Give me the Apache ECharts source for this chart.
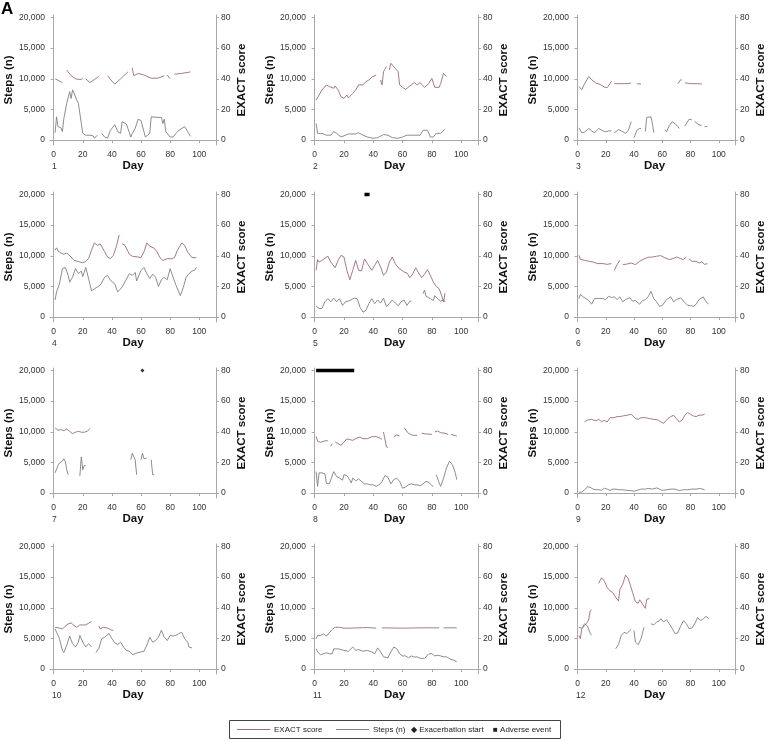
<!DOCTYPE html>
<html>
<head>
<meta charset="utf-8">
<script src="https://cdn.jsdelivr.net/npm/echarts@6/dist/echarts.min.js"></script>
<style>
  html, body { margin: 0; padding: 0; background: #fff; }
  #chart { width: 768px; height: 741px; }
</style>
</head>
<body>
<div id="chart"></div>
<script>
// tick labels
const dayTicks = [0, 20, 40, 60, 80, 100]
const stepTicks = [0, 5000, 10000, 15000, 20000]
const exactTicks = [0, 20, 40, 60, 80]

// [day, value]; null = gap in the record
const exact1 = [[1,40],[3,39],[6,37.5],null,[9,45.7],[12,42],[15,40],[18,39.5],[20,40],null,[22,40],[25,37.5],[28,39.5],[31,41.5],null,[37,42],[40,38.5],[42,36.5],[46,40],[51,44.5],null,[54,47],[55,42],[58,43.5],[62,42.5],[67,40.3],[72,40.5],[76,42],null,[78,42.5],[80,40],null,[83,43],[88,43.5],[94,44.5]]
const steps1 = [[1,1200],[2,3800],[3,2200],[4,1900],[5,2000],[6,1400],[7,3500],[9,6000],[11,7900],[12,6800],[13,8200],[14,8400],[16,6500],[17,6000],[19,2700],[20,1100],[22,800],[25,800],[27,700],[28,300],[30,800],null,[33,1100],[35,500],[37,300],[39,1600],[42,2500],[44,1400],[46,1100],[47,3000],[50,2600],[51,1900],[53,500],[54,1100],[56,1900],[58,3400],[60,3200],[62,1400],[63,500],[66,1100],[67,3800],[71,3700],[74,3700],[75,2700],[76,3400],[77,1400],[80,500],[82,500],[84,1100],[86,1600],[90,2200],[92,1400],[94,600]]

const exact2 = [[1,26.1],[3,29.4],[5,32.7],[8,36],[10,34.9],[13,33.8],[14,35.3],[16,32.7],[18,28.3],[20,27.2],[22,29.4],[23,27.5],[26,30.5],[28,32.7],[30,36],[33,36],[35,38.1],[37,39.2],[39,41],[42,42.5],null,[45,39.2],[46,36],[47,44.7],[49,47.9],null,[51,45.8],[52,50.1],[55,46.8],[57,44.7],[58,36],[60,34.4],[62,33.1],[63,34.4],[66,36],[68,37.5],[70,36],[72,37.5],[75,34.4],[78,37],[80,40.3],[82,34.4],[85,34.4],[86,37],[88,43.6],[90,41.4]]
const steps2 = [[1,2700],[2,1100],[3,1400],[5,1100],[8,800],[11,800],[13,1400],[15,1100],[18,500],[20,700],[23,1000],[28,1000],[30,1200],[33,800],[36,500],[40,300],[43,400],[47,900],[50,800],[53,400],[57,300],[60,500],[63,800],[68,800],[72,800],[74,1600],[77,1600],[79,500],[81,500],[83,1100],[86,1100],[89,1800]]

const exact3 = [[1,35],[3,32.9],[5,36.8],[8,41.5],[10,39.4],[13,37.2],[16,36.3],[19,34.6],[21,34.2],[23,36.8],[24,38.5],null,[26,36.8],[30,36.8],[35,36.8],[38,37.2],null,[42,36.8],[45,36.5],null,[71,36.8],[73,39.4],[74,39],null,[76,37.4],[80,36.8],[85,36.8],[88,36.6]]
const steps3 = [[1,2000],[3,1200],[5,1300],[8,1900],[10,1500],[12,1200],[15,1900],[18,1500],[20,1350],[22,1500],[24,1500],null,[26,1200],[29,1700],[31,1500],[34,1100],[36,1600],[38,3000],null,[40,400],[42,1600],[44,1900],[45,1900],null,[48,1400],[49,3700],[52,3800],[53,2700],[54,1200],null,[62,1700],[63,1350],[65,2400],[67,3000],[69,2700],[71,2200],[72,1900],null,[76,2300],[79,3400],[81,3300],null,[83,3000],[86,2500],[88,2400],null,[90,2200],[92,2200]]

const exact4 = [[1,43.6],[2,45.2],[3,43.2],[5,41.8],[7,41],[9,41.8],[12,39.2],[14,37],[17,36.2],[20,35.5],[22,36.2],[24,38.3],[26,43.6],[28,48.4],[30,46.8],[32,47.7],[35,42.7],[37,39.2],[39,38.1],[41,40.3],[43,45.8],[45,53.6],null,[47,47.9],[49,46.8],[52,41],[54,39.7],[58,39.2],[60,38.8],[62,42.5],[64,48.4],[66,46.2],[69,45],[71,42.5],[73,38.8],[75,37],[78,38.1],[81,38.1],[83,38.8],[85,43.6],[88,48.4],[90,46.8],[92,42.5],[95,38.8],[98,38.8]]
const steps4 = [[1,2800],[2,4100],[4,5400],[6,7900],[8,8100],[10,6800],[11,5700],[13,6500],[15,7900],[17,7100],[19,7500],[20,6600],[22,8100],[24,6300],[26,4300],[28,4600],[30,4900],[32,5200],[35,6500],[37,6800],[39,6000],[42,5400],[44,4100],[45,3800],[47,4900],[50,6200],[52,7100],[54,6800],[56,7300],[57,5900],[60,7600],[62,8100],[64,7100],[66,6300],[68,7000],[70,6500],[72,5000],[74,6100],[76,6500],[78,6100],[80,7900],[82,6500],[84,5200],[86,4100],[87,3500],[89,4800],[91,6500],[93,7100],[95,7500],[97,7700],[98,8100]]

const exact5 = [[1,30.5],[2,37.5],[3,35.9],[5,37],[6,38.1],[9,39.7],[11,35.9],[14,32.2],[16,37],[18,40.3],[20,39.2],[22,30.5],[24,24.4],[26,30.5],[28,37],[30,30.5],[32,30.1],[34,37.9],[36,34.9],[39,30.5],[41,33.8],[43,37],[45,32.7],[47,27.2],[49,29.4],[51,35.9],[53,39.2],[55,34.9],[57,32.2],[59,30.9],[61,29.4],[63,28.8],[65,25.7],[67,28.3],[69,32.2],[71,28.8],[73,25.7],[75,27.9],[77,30.9],[79,27.2],[81,22.9],[83,20],[85,18.5],[87,13.1],[88,9.8],[89,15.7]]
const steps5 = [[1,1800],[3,1400],[5,1400],[7,2500],[9,3000],[11,2500],[13,3100],[15,2500],[17,3000],[19,1900],[21,2500],[24,2700],[27,3100],[29,3000],[31,1600],[33,800],[35,1100],[37,2200],[39,3000],[41,2200],[43,2800],[45,2300],[47,3100],[49,1700],[51,2200],[53,2800],[55,2300],[57,1850],[59,2500],[61,2800],[63,1900],[65,2600],[66,2600],null,[74,3800],[75,4400],[76,3400],[79,3000],[81,2700],[82,3500],[84,3000],[86,2600],[88,2800],[89,2500]]

const exact6 = [[1,40.3],[2,37.7],[5,37],[8,36.4],[11,35.9],[14,34.9],[18,34.9],[21,34.4],[24,34.9],null,[26,30.5],[28,34.2],[30,37],null,[32,34.2],[35,34.6],[38,35.3],[41,34.2],[44,36.4],[47,37.9],[50,39],[53,39.2],[56,39.7],[59,40.1],[62,38.6],[65,37.5],[68,38.3],[70,39.2],[73,38.1],[75,37.5],[77,39.2],null,[79,37.9],[81,36.4],[84,36.4],[86,35.3],[88,35.9],[90,34.4],[92,34.9]]
const steps6 = [[1,3000],[2,3700],[4,3300],[6,3000],[8,2700],[10,2100],[12,3000],[15,3050],[18,3000],[20,2850],[22,3400],[24,3200],[26,3300],[28,2850],[30,3300],[32,2500],[34,2850],[37,3150],[39,2600],[41,2700],[44,2100],[46,2700],[48,2850],[50,3300],[52,4200],[54,3000],[56,2500],[58,1750],[60,1900],[63,2850],[66,3300],[68,2500],[70,2850],[73,3150],[75,2600],[78,1900],[80,1900],[82,1750],[84,2100],[86,2850],[89,3300],[91,2500],[93,2100]]

const exact7 = [[1,42.5],[3,41],[5,41.4],[7,40.7],[9,41.8],[11,40.3],[13,38.8],[15,39.7],[17,40.3],[19,39.7],[21,39.7],[23,40.3],[25,42.1]]
const steps7 = [[1,3300],[2,3000],[3,4500],[4,4900],[5,4600],[6,5200],[7,5600],[8,5200],[9,3800],[10,3000],null,[18,2800],[19,5900],[20,3800],[21,4500],[22,4500],null,[53,5450],[54,6500],[56,5450],[57,3000],null,[60,5450],[61,6500],[62,5600],[64,5700],null,[67,5450],[68,3000],[69,3000]]

const exact8 = [[1,37],[2,33.8],[4,33.1],[6,33.8],[8,34.2],[9,34.2],null,[11,30.5],[12,32.2],null,[14,33.3],[16,32.2],[18,31.1],[20,33.3],[22,35.3],[24,34.9],[26,34.4],[28,35.5],[31,36.6],[33,35.5],[36,35.5],[39,36.8],[42,36.8],[44,36.2],[46,35.1],null,[47,39.9],[49,30.1],[50,29.8],null,[54,36.8],[56,37.9],[58,37.3],null,[61,42.7],[62,41.6],[64,39],[67,37.7],[70,37.7],null,[73,39],[76,38.6],[80,38.3],null,[82,39.9],[84,40.5],[86,39.4],[89,39],[91,38.3],null,[93,38.3],[97,37.2]]
const steps8 = [[1,3500],[2,1100],[3,3300],[5,3300],[7,3150],[8,1600],[10,1500],[11,1500],[13,3500],[15,2700],[17,2450],[19,2100],[20,3000],[22,2850],[24,2100],[25,1650],[26,2450],[28,2000],[30,2300],[32,1900],[34,1500],[36,1500],[38,1350],[40,1350],[42,1100],[44,1350],[46,1900],[48,2850],[50,2600],[52,1500],[54,2200],[56,2450],[58,1900],[60,800],[62,1000],[64,1350],[66,1500],[68,1350],[70,1350],[72,1200],[74,1500],[76,1900],[78,1750],[80,1200],[81,1100],null,[83,3000],[85,1650],[86,1100],[88,2450],[90,4100],[92,5200],[94,4650],[96,3300],[97,2200]]

const exact9 = [[5,46.4],[7,47.7],[10,48.1],[13,47.1],[15,48.1],[17,46.6],[19,47.5],[21,46.4],[23,49.2],[26,49.2],[28,49.9],[30,49.9],[32,50.3],[35,50.8],[38,51.4],[41,48.6],[43,48.1],[45,49.2],[48,49.2],[51,48.6],[54,48.1],[57,47.7],[59,46.4],[61,45.5],[63,47.7],[66,49.9],[68,50.8],[70,48.6],[72,46.4],[74,47.5],[76,50.8],[78,52.5],[80,51.4],[82,50.3],[84,49.9],[86,50.8],[88,50.8],[90,51.4]]
const steps9 = [[1,150],[3,150],[5,550],[7,1000],[9,950],[11,650],[13,550],[15,550],[17,450],[19,800],[21,650],[23,450],[25,650],[27,650],[29,550],[32,550],[35,450],[38,400],[40,300],[42,450],[45,650],[48,650],[50,750],[53,650],[56,850],[58,650],[60,450],[63,550],[66,650],[69,650],[72,400],[75,550],[78,550],[81,650],[84,650],[87,750],[90,550]]

const exact10 = [[1,27.3],[2,26.7],[4,26.7],[6,26.2],[8,27.9],[10,29.5],[12,30.1],[14,28.4],[16,27.3],[18,28.8],[20,28.8],[22,28.8],[23,27.9],[25,30.5],[26,31],null,[31,28.2],[32,26.2],[34,27.3],[37,26.7],[39,25.8],[41,25.2]]
const steps10 = [[1,6600],[2,6000],[4,4950],[6,3050],[7,2700],[9,3900],[11,5400],[13,4150],[15,3600],[17,4400],[18,5500],[20,4400],[22,3600],[24,4150],[26,3600],null,[29,2700],[31,3350],[33,4950],[35,5200],[38,5800],[40,4950],[42,4300],[44,4000],[46,4400],[48,3600],[50,3050],[52,2900],[54,2350],[56,2500],[58,2700],[60,2800],[62,2900],[64,3900],[66,5200],[68,4400],[70,4650],[72,5200],[74,6350],[76,5200],[78,4650],[80,5500],[82,5400],[84,5500],[86,5800],[88,6000],[90,4950],[92,4400],[93,3600],[95,3450]]

const exact11 = [[1,19.8],[2,21.9],[4,21.9],[6,23],[8,21.5],[10,23.7],[12,25.8],[14,27.3],[17,27.3],[20,26.7],[24,26.7],[30,26.9],[36,27.1],[42,26.7],null,[46,26.9],[60,26.7],[72,26.9],[85,26.9],null,[88,26.9],[97,26.9]]
const steps11 = [[1,3300],[2,2800],[4,2350],[6,2500],[8,2650],[10,2500],[12,2500],[13,3300],[16,3300],[20,3050],[23,2900],[26,3600],[28,3050],[30,3200],[33,2900],[36,3050],[39,2800],[41,2500],[43,3450],[45,2800],[47,2000],[50,1850],[52,2800],[54,3600],[56,3350],[58,2500],[60,2150],[62,2150],[64,1850],[66,2150],[68,1950],[70,2000],[72,1750],[75,1750],[78,2500],[80,2500],[82,2150],[84,2250],[86,2150],[88,2000],[90,2000],[93,1600],[95,1450],[97,1200]]

const exact12 = [[1,22],[2,19.8],[3,26.2],[5,28.4],[7,30.5],[8,32.7],[9,38],[10,38.7],null,[15,55.9],[17,59.6],[19,57.4],[21,53.1],[23,51],[25,49.9],[27,46.7],[29,44.5],[30,52],[32,55.3],[34,61.3],[36,58.9],[37,58.9],[39,49.9],[41,43.9],[43,43],[44,45.2],[46,42.4],[48,39.6],[49,45.6],[51,46]]
const steps12 = [[1,6800],[3,6650],[5,7400],[7,7050],[9,5800],[10,5500],null,[27,3300],[29,4000],[31,5500],[33,6000],[35,5800],[36,5500],[37,6300],[38,6500],null,[40,6300],[41,4400],[42,4650],[43,4000],[45,4950],[47,6800],null,[52,7400],[54,7200],[56,7700],[58,7850],[59,8200],[61,7700],[63,8050],[65,7400],[67,6650],[69,5800],[71,5900],[73,7000],[75,7900],[77,7400],[79,6600],[81,6700],[83,7400],[85,8400],[87,7900],[89,8200],[91,8600],[93,8200]]

// events: adverse event spans [start, end] by panel, exacerbation start days by panel
const adverseEvents = { 5: [34, 37.5], 8: [1, 27] }
const exacerbationStarts = { 7: [61] }

const exactList = [exact1, exact2, exact3, exact4, exact5, exact6, exact7, exact8, exact9, exact10, exact11, exact12]
const stepsList = [steps1, steps2, steps3, steps4, steps5, steps6, steps7, steps8, steps9, steps10, steps11, steps12]

const EXACT_COLOR = '#9c6a80'
const STEPS_COLOR = '#808085'
const AXIS_COLOR = '#a8a8a8'
const LABEL_COLOR = '#333'
const FONT = 'Liberation Sans, Arial, sans-serif'

// panel geometry
const colLeft = [50, 311, 574]
const colWidth = [166, 167, 165]
const rowTop = [15, 192, 368, 544]
const plotH = 130

const withGaps = (arr) => arr.map((p) => (p === null ? [null, null] : p))

const chart = echarts.init(document.getElementById('chart'))

const grid = []
const xAxis = []
const yAxis = []
const series = []
const graphic = []

for (let i = 0; i < 12; i++) {
  const c = i % 3
  const r = Math.floor(i / 3)
  grid.push({ left: colLeft[c], top: rowTop[r], width: colWidth[c], height: plotH })

  const axisLine = { show: true, lineStyle: { color: AXIS_COLOR, width: 1 } }
  const tick = (vals) => ({ show: true, customValues: vals, length: 3, lineStyle: { color: AXIS_COLOR } })
  const label = (vals, fmt) => ({ customValues: vals, fontSize: 8.5, color: LABEL_COLOR, fontFamily: FONT, margin: 5, formatter: fmt })
  const nameStyle = { fontWeight: 'bold', fontSize: 11.5, color: '#111', fontFamily: FONT }

  xAxis.push({
    gridIndex: i,
    type: 'value',
    min: -2.5,
    max: 111.5,
    axisLine: axisLine,
    axisTick: tick(dayTicks),
    axisLabel: label(dayTicks),
    splitLine: { show: false },
    name: 'Day',
    nameLocation: 'middle',
    nameGap: 15,
    nameTextStyle: nameStyle
  })
  // steps (left)
  yAxis.push({
    gridIndex: i,
    type: 'value',
    position: 'left',
    min: -800,
    max: 20400,
    axisLine: axisLine,
    axisTick: tick(stepTicks),
    axisLabel: label(stepTicks, (v) => v.toLocaleString('en-US')),
    splitLine: { show: false },
    name: 'Steps (n)',
    nameLocation: 'middle',
    nameRotate: 90,
    nameGap: 33,
    nameTextStyle: nameStyle
  })
  // EXACT score (right)
  yAxis.push({
    gridIndex: i,
    type: 'value',
    position: 'right',
    min: -3.2,
    max: 81.6,
    axisLine: axisLine,
    axisTick: tick(exactTicks),
    axisLabel: label(exactTicks),
    splitLine: { show: false },
    name: 'EXACT score',
    nameLocation: 'middle',
    nameRotate: 90,
    nameGap: 20,
    nameTextStyle: nameStyle
  })

  series.push({
    type: 'line',
    name: 'EXACT score',
    xAxisIndex: i,
    yAxisIndex: 2 * i + 1,
    data: withGaps(exactList[i]),
    showSymbol: false,
    symbol: 'none',
    connectNulls: false,
    lineStyle: { color: EXACT_COLOR, width: 0.9 }
  })
  series.push({
    type: 'line',
    name: 'Steps (n)',
    xAxisIndex: i,
    yAxisIndex: 2 * i,
    data: withGaps(stepsList[i]),
    showSymbol: false,
    symbol: 'none',
    connectNulls: false,
    lineStyle: { color: STEPS_COLOR, width: 0.9 }
  })

  const ae = adverseEvents[i + 1]
  if (ae) {
    series.push({
      type: 'line',
      name: 'Adverse event',
      xAxisIndex: i,
      yAxisIndex: 2 * i,
      data: [[ae[0], 20000], [ae[1], 20000]],
      symbol: 'none',
      lineStyle: { color: '#000', width: 3.5, cap: 'butt' }
    })
  }
  const ex = exacerbationStarts[i + 1]
  if (ex) {
    series.push({
      type: 'scatter',
      name: 'Exacerbation start',
      xAxisIndex: i,
      yAxisIndex: 2 * i,
      data: ex.map((d) => [d, 20000]),
      symbol: 'diamond',
      symbolSize: 4,
      itemStyle: { color: '#000' }
    })
  }

  // panel number under the axis
  graphic.push({
    type: 'text',
    left: colLeft[c] + 2,
    top: rowTop[r] + plotH + 17,
    style: { text: String(i + 1), fontSize: 8.5, fill: LABEL_COLOR, fontFamily: FONT }
  })
}

graphic.push({
  type: 'text',
  left: 1,
  top: 1,
  style: { text: 'A', fontSize: 17, fontWeight: 'bold', fill: '#000', fontFamily: FONT }
})

// legend box at the bottom
const legTop = 720
const legMid = legTop + 9.5
const legFont = { fontSize: 8, fill: '#222', fontFamily: FONT }
graphic.push(
  { type: 'rect', shape: { x: 229.5, y: legTop + 0.5, width: 331, height: 18 }, style: { fill: '#fff', stroke: '#444', lineWidth: 1 } },
  { type: 'line', shape: { x1: 237, y1: legMid, x2: 270, y2: legMid }, style: { stroke: EXACT_COLOR, lineWidth: 1 } },
  { type: 'text', x: 274, y: legMid, style: Object.assign({ text: 'EXACT score', verticalAlign: 'middle' }, legFont) },
  { type: 'line', shape: { x1: 336, y1: legMid, x2: 369, y2: legMid }, style: { stroke: STEPS_COLOR, lineWidth: 1 } },
  { type: 'text', x: 373, y: legMid, style: Object.assign({ text: 'Steps (n)', verticalAlign: 'middle' }, legFont) },
  { type: 'text', x: 411, y: legMid, style: Object.assign({ text: '\u25C6 Exacerbation start', verticalAlign: 'middle' }, legFont) },
  { type: 'text', x: 493, y: legMid, style: Object.assign({ text: '\u25A0 Adverse event', verticalAlign: 'middle' }, legFont) }
)

chart.setOption({
  animation: false,
  backgroundColor: '#fff',
  grid: grid,
  xAxis: xAxis,
  yAxis: yAxis,
  series: series,
  graphic: graphic
})
</script>
</body>
</html>
